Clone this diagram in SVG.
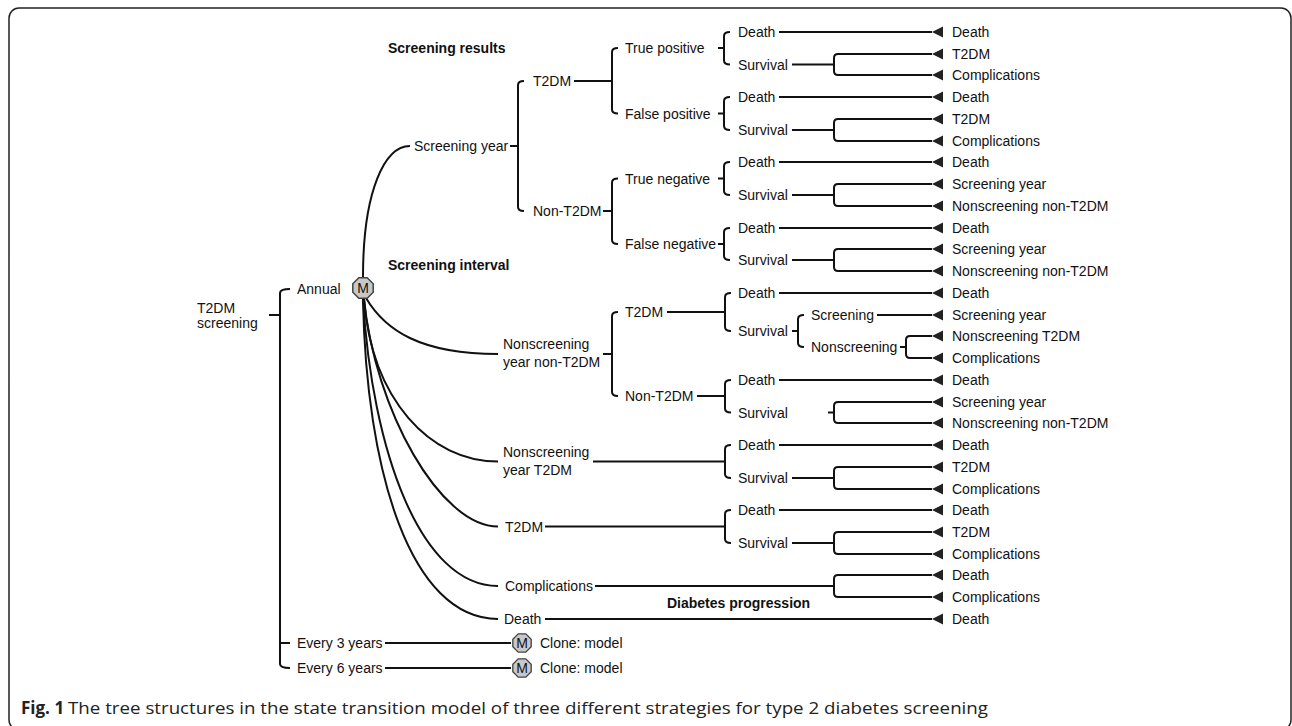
<svg xmlns="http://www.w3.org/2000/svg" xmlns:xlink="http://www.w3.org/1999/xlink" width="1292" height="726" viewBox="0 0 1292 726">
<style>
.ln{stroke:#111;stroke-width:2;fill:none}
.t{font-family:"Liberation Sans",Arial,sans-serif;font-size:14px;fill:#111}
.b{font-family:"Liberation Sans",Arial,sans-serif;font-size:14px;font-weight:bold;fill:#111}
.m{font-family:"Liberation Sans",Arial,sans-serif;font-size:14px;fill:#111;text-anchor:middle}
.cap{font-family:"Open Sans","Liberation Sans",sans-serif;font-size:17px;fill:#222}
.oct{fill:#c8c8c8;stroke:#444;stroke-width:1.5}
.ah{fill:#222}
</style>
<defs>
<path id="ah" d="M0,0 L11,-5.5 L11,5.5 Z"/>
<polygon id="oct" points="10.2,4.2 4.2,10.2 -4.2,10.2 -10.2,4.2 -10.2,-4.2 -4.2,-10.2 4.2,-10.2 10.2,-4.2"/>
</defs>
<rect x="9" y="8" width="1282" height="722" rx="10" fill="#fff" stroke="#222" stroke-width="1.5"/>

<g id="connectors">
<path class="ln" d="M269,315 H280"/>
<path class="ln" d="M290,289 Q280,289 280,293 V664 Q280,668 290,668"/>
<path class="ln" d="M280,643 H290"/>
<path class="ln" d="M385,643 H511"/>
<path class="ln" d="M385,668 H511"/>
<path class="ln" d="M363,277 C363,190 385,146 410,146"/>
<path class="ln" d="M366,298 C385,330 420,354 498,354"/>
<path class="ln" d="M364,299 C372,400 430,461.5 498,461.5"/>
<path class="ln" d="M364,299 C375,410 440,526.5 498,526.5"/>
<path class="ln" d="M363,299 C372,450 420,586 498,586"/>
<path class="ln" d="M363,299 C366,470 410,619 498,619"/>
<!-- screening year -->
<path class="ln" d="M510,146 H518"/>
<path class="ln" d="M524,81 Q518,81 518,85 V207 Q518,211 524,211"/>
<path class="ln" d="M574,81 H612"/>
<path class="ln" d="M618,48 Q612,48 612,52 V109.5 Q612,113.5 618,113.5"/>
<path class="ln" d="M718,48 H724"/>
<path class="ln" d="M730,32 Q724,32 724,36 V60.5 Q724,64.5 730,64.5"/>
<path class="ln" d="M779,32 H932"/>
<path class="ln" d="M792,64.5 H834"/>
<path class="ln" d="M932,54 H838 Q834,54 834,58 V71 Q834,75 838,75 H932"/>
<path class="ln" d="M718,113.5 H724"/>
<path class="ln" d="M730,97 Q724,97 724,101 V126 Q724,130 730,130"/>
<path class="ln" d="M779,97 H932"/>
<path class="ln" d="M792,130 H834"/>
<path class="ln" d="M932,119 H838 Q834,119 834,123 V137 Q834,141 838,141 H932"/>
<path class="ln" d="M603,211 H612"/>
<path class="ln" d="M618,178.5 Q612,178.5 612,182.5 V240 Q612,244 618,244"/>
<path class="ln" d="M718,178.5 H724"/>
<path class="ln" d="M730,162 Q724,162 724,166 V191 Q724,195 730,195"/>
<path class="ln" d="M779,162 H932"/>
<path class="ln" d="M792,195 H834"/>
<path class="ln" d="M932,184 H838 Q834,184 834,188 V202 Q834,206 838,206 H932"/>
<path class="ln" d="M718,244 H724"/>
<path class="ln" d="M730,228 Q724,228 724,232 V256 Q724,260 730,260"/>
<path class="ln" d="M779,228 H932"/>
<path class="ln" d="M792,260 H834"/>
<path class="ln" d="M932,249 H838 Q834,249 834,253 V267 Q834,271 838,271 H932"/>
<!-- nonscreening year non-T2DM -->
<path class="ln" d="M603,354 H612"/>
<path class="ln" d="M618,312 Q612,312 612,316 V392 Q612,396 618,396"/>
<path class="ln" d="M667,312 H725"/>
<path class="ln" d="M731,293 Q725,293 725,297 V327 Q725,331 731,331"/>
<path class="ln" d="M779,293 H932"/>
<path class="ln" d="M792,331 H798"/>
<path class="ln" d="M804,315 Q798,315 798,319 V343 Q798,347 804,347"/>
<path class="ln" d="M877,315 H932"/>
<path class="ln" d="M900,347 H906"/>
<path class="ln" d="M932,336 H910 Q906,336 906,340 V354 Q906,358 910,358 H932"/>
<path class="ln" d="M697,396 H725"/>
<path class="ln" d="M731,380 Q725,380 725,384 V408.5 Q725,412.5 731,412.5"/>
<path class="ln" d="M779,380 H932"/>
<path class="ln" d="M828,412.5 H834"/>
<path class="ln" d="M932,402 H838 Q834,402 834,406 V419 Q834,423 838,423 H932"/>
<!-- nonscreening year T2DM -->
<path class="ln" d="M593,461.5 H725"/>
<path class="ln" d="M731,445 Q725,445 725,449 V474 Q725,478 731,478"/>
<path class="ln" d="M779,445 H932"/>
<path class="ln" d="M792,478 H834"/>
<path class="ln" d="M932,467 H838 Q834,467 834,471 V485 Q834,489 838,489 H932"/>
<!-- T2DM -->
<path class="ln" d="M545,526.5 H725"/>
<path class="ln" d="M731,510 Q725,510 725,514 V539 Q725,543 731,543"/>
<path class="ln" d="M779,510 H932"/>
<path class="ln" d="M792,543 H834"/>
<path class="ln" d="M932,532 H838 Q834,532 834,536 V550 Q834,554 838,554 H932"/>
<!-- complications -->
<path class="ln" d="M595,586 H834"/>
<path class="ln" d="M932,575 H838 Q834,575 834,579 V593 Q834,597 838,597 H932"/>
<!-- death -->
<path class="ln" d="M545,619 H932"/>
<!-- arrowheads -->
<g class="ah">
<use xlink:href="#ah" x="932" y="32"/><use xlink:href="#ah" x="932" y="54"/><use xlink:href="#ah" x="932" y="75"/>
<use xlink:href="#ah" x="932" y="97"/><use xlink:href="#ah" x="932" y="119"/><use xlink:href="#ah" x="932" y="141"/>
<use xlink:href="#ah" x="932" y="162"/><use xlink:href="#ah" x="932" y="184"/><use xlink:href="#ah" x="932" y="206"/>
<use xlink:href="#ah" x="932" y="228"/><use xlink:href="#ah" x="932" y="249"/><use xlink:href="#ah" x="932" y="271"/>
<use xlink:href="#ah" x="932" y="293"/><use xlink:href="#ah" x="932" y="315"/><use xlink:href="#ah" x="932" y="336"/>
<use xlink:href="#ah" x="932" y="358"/><use xlink:href="#ah" x="932" y="380"/><use xlink:href="#ah" x="932" y="402"/>
<use xlink:href="#ah" x="932" y="423"/><use xlink:href="#ah" x="932" y="445"/><use xlink:href="#ah" x="932" y="467"/>
<use xlink:href="#ah" x="932" y="489"/><use xlink:href="#ah" x="932" y="510"/><use xlink:href="#ah" x="932" y="532"/>
<use xlink:href="#ah" x="932" y="554"/><use xlink:href="#ah" x="932" y="575"/><use xlink:href="#ah" x="932" y="597"/>
<use xlink:href="#ah" x="932" y="619"/>
</g>
</g>

<g id="root"><text class="t" x="197" y="313">T2DM</text><text class="t" x="197" y="328">screening</text></g>
<g id="annual"><text class="t" x="297" y="294">Annual</text></g>
<g id="markov-annual"><use xlink:href="#oct" class="oct" x="363" y="288"/><text class="m" x="363" y="293">M</text></g>
<g id="every3"><text class="t" x="297" y="648">Every 3 years</text></g>
<g id="markov-3"><use xlink:href="#oct" class="oct" x="522" y="643" transform="translate(522,643) scale(0.9) translate(-522,-643)"/><text class="m" x="522" y="648">M</text><text class="t" x="540" y="648">Clone: model</text></g>
<g id="every6"><text class="t" x="297" y="673">Every 6 years</text></g>
<g id="markov-6"><use xlink:href="#oct" class="oct" x="522" y="668" transform="translate(522,668) scale(0.9) translate(-522,-668)"/><text class="m" x="522" y="673">M</text><text class="t" x="540" y="673">Clone: model</text></g>

<g id="section-labels">
<text class="b" x="388" y="53">Screening results</text>
<text class="b" x="388" y="270">Screening interval</text>
<text class="b" x="667" y="608">Diabetes progression</text>
</g>

<g id="screening-year">
<text class="t" x="414" y="151">Screening year</text>
<text class="t" x="533" y="86">T2DM</text>
<text class="t" x="533" y="216">Non-T2DM</text>
<text class="t" x="625" y="53">True positive</text>
<text class="t" x="625" y="118.5">False positive</text>
<text class="t" x="625" y="183.5">True negative</text>
<text class="t" x="625" y="249">False negative</text>
<text class="t" x="738" y="37">Death</text><text class="t" x="738" y="69.5">Survival</text>
<text class="t" x="738" y="102">Death</text><text class="t" x="738" y="135">Survival</text>
<text class="t" x="738" y="167">Death</text><text class="t" x="738" y="200">Survival</text>
<text class="t" x="738" y="233">Death</text><text class="t" x="738" y="265">Survival</text>
</g>

<g id="nonscreening-nont2dm">
<text class="t" x="503" y="349">Nonscreening</text><text class="t" x="503" y="367">year non-T2DM</text>
<text class="t" x="625" y="317">T2DM</text>
<text class="t" x="625" y="401">Non-T2DM</text>
<text class="t" x="738" y="298">Death</text><text class="t" x="738" y="336">Survival</text>
<text class="t" x="811" y="320">Screening</text><text class="t" x="811" y="352">Nonscreening</text>
<text class="t" x="738" y="385">Death</text><text class="t" x="738" y="417.5">Survival</text>
</g>

<g id="nonscreening-t2dm">
<text class="t" x="503" y="457">Nonscreening</text><text class="t" x="503" y="475">year T2DM</text>
<text class="t" x="738" y="450">Death</text><text class="t" x="738" y="483">Survival</text>
</g>

<g id="t2dm">
<text class="t" x="505" y="531.5">T2DM</text>
<text class="t" x="738" y="515">Death</text><text class="t" x="738" y="548">Survival</text>
</g>
<g id="complications"><text class="t" x="505" y="591">Complications</text></g>
<g id="death"><text class="t" x="504" y="624">Death</text></g>

<g id="outcomes">
<text class="t" x="952" y="37">Death</text>
<text class="t" x="952" y="59">T2DM</text>
<text class="t" x="952" y="80">Complications</text>
<text class="t" x="952" y="102">Death</text>
<text class="t" x="952" y="124">T2DM</text>
<text class="t" x="952" y="146">Complications</text>
<text class="t" x="952" y="167">Death</text>
<text class="t" x="952" y="189">Screening year</text>
<text class="t" x="952" y="211">Nonscreening non-T2DM</text>
<text class="t" x="952" y="233">Death</text>
<text class="t" x="952" y="254">Screening year</text>
<text class="t" x="952" y="276">Nonscreening non-T2DM</text>
<text class="t" x="952" y="298">Death</text>
<text class="t" x="952" y="320">Screening year</text>
<text class="t" x="952" y="341">Nonscreening T2DM</text>
<text class="t" x="952" y="363">Complications</text>
<text class="t" x="952" y="385">Death</text>
<text class="t" x="952" y="407">Screening year</text>
<text class="t" x="952" y="428">Nonscreening non-T2DM</text>
<text class="t" x="952" y="450">Death</text>
<text class="t" x="952" y="472">T2DM</text>
<text class="t" x="952" y="494">Complications</text>
<text class="t" x="952" y="515">Death</text>
<text class="t" x="952" y="537">T2DM</text>
<text class="t" x="952" y="559">Complications</text>
<text class="t" x="952" y="580">Death</text>
<text class="t" x="952" y="602">Complications</text>
<text class="t" x="952" y="624">Death</text>
</g>

<g id="caption">
<text class="cap" x="21" y="714" font-weight="bold">Fig. 1</text>
<text class="cap" x="68" y="714" textLength="920" lengthAdjust="spacingAndGlyphs">The tree structures in the state transition model of three different strategies for type 2 diabetes screening</text>
</g>
</svg>
